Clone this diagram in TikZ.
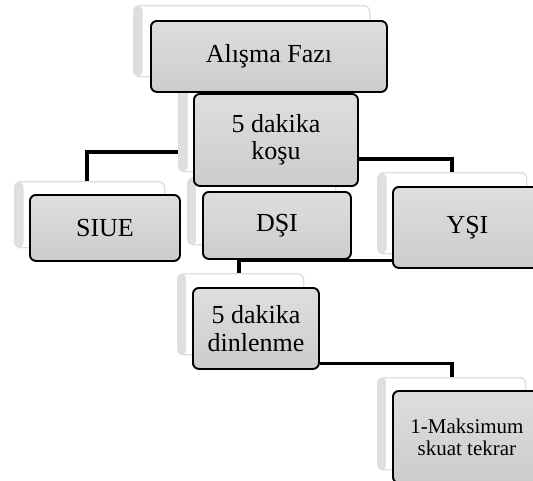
\documentclass[tikz,border=0pt]{standalone}
\usepackage{fontspec}
\setmainfont{Liberation Serif}
\pgfdeclarelayer{background}
\pgfsetlayers{background,main}
\definecolor{boxgray}{RGB}{204,204,204}
\definecolor{boxtop}{RGB}{222,222,222}
\definecolor{bgedge}{RGB}{222,222,222}
\tikzset{
  conn/.style={line width=3.6pt, black},
  glass/.style={anchor=north west, inner sep=0pt, rounded corners=6pt, draw=black,
    line width=1.9pt, top color=boxtop, bottom color=boxgray, align=center,
    font=\fontsize{26}{27.5}\selectfont},
  smalltext/.style={font=\fontsize{21}{22}\selectfont},
  backing/.style={anchor=north west, inner sep=0pt, rounded corners=6pt, draw=bgedge,
    line width=1.4pt, fill=white,
    path picture={\fill[left color=black!13, right color=white]
      (path picture bounding box.south west) rectangle
      ([xshift=9pt]path picture bounding box.north west);}},
}
\begin{document}
\begin{tikzpicture}[x=1pt,y=-1pt]
\useasboundingbox (0,0) rectangle (533,480);
\clip (0,0) rectangle (533,480);
% backing (glass) boxes
\node[backing, minimum width=236pt, minimum height=71pt] (alisma-bg) at (133,5) {};
\node[backing, minimum width=164pt, minimum height=92pt] (kosu-bg) at (178,79) {};
\node[backing, minimum width=150pt, minimum height=66pt] (siue-bg) at (14,181) {};
\node[backing, minimum width=148pt, minimum height=67pt] (dsi-bg) at (187,177) {};
\node[backing, minimum width=149pt, minimum height=81pt] (ysi-bg) at (377,172) {};
\node[backing, minimum width=126pt, minimum height=81pt] (din-bg) at (177,273) {};
\node[backing, minimum width=148pt, minimum height=92pt] (maks-bg) at (377,377) {};
% main boxes
\node[glass, minimum width=236pt, minimum height=71pt] (alisma) at (150,20) {Alışma Fazı};
\node[glass, minimum width=164pt, minimum height=92pt] (kosu) at (193,93) {5 dakika\\koşu};
\node[glass, minimum width=150pt, minimum height=66pt] (siue) at (29,194) {SIUE};
\node[glass, minimum width=148pt, minimum height=67pt] (dsi) at (202,191) {DŞI};
\node[glass, minimum width=149pt, minimum height=81pt] (ysi) at (392,186) {YŞI};
\node[glass, minimum width=126pt, minimum height=81pt] (din) at (192,287) {5 dakika\\dinlenme};
\node[glass, smalltext, minimum width=148pt, minimum height=92pt] (maks) at (392,390) {1-Maksimum\\skuat tekrar};
% connectors behind the boxes
\begin{pgfonlayer}{background}
\draw[conn] ([yshift=-26pt]kosu-bg.west) -| ([xshift=-3pt]siue-bg.north);
\draw[conn] ([yshift=-19pt]kosu.east) -| (ysi-bg.north);
\draw[conn] ([yshift=-33pt]ysi.west) -| ([xshift=-2pt]din-bg.north);
\draw[conn] ([yshift=-35pt]din.east) -| (maks-bg.north);
\end{pgfonlayer}
\end{tikzpicture}
\end{document}
